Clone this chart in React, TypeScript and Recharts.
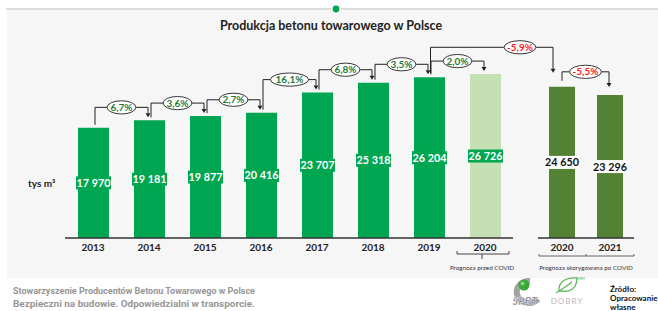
import { BarChart, Bar, XAxis, YAxis, LabelList, Cell } from 'recharts'

const W = 658
const H = 311
const FONT = 'Lato, "Open Sans", sans-serif'

// ── data ──────────────────────────────────────────────────────────────────────
const YEARS = ['2013', '2014', '2015', '2016', '2017', '2018', '2019', '2020']
const PRODUCTION = [17970, 19181, 19877, 20416, 23707, 25318, 26204, 26726]
const GROWTH = ['6,7%', '3,6%', '2,7%', '16,1%', '6,8%', '3,5%', '2,0%']

const YEARS_COVID = ['2020', '2021']
const PRODUCTION_COVID = [24650, 23296]
const GROWTH_COVID = ['-5,9%', '-5,5%']

const Y_DOMAIN: [number, number] = [0, 30000]

// ── layout ────────────────────────────────────────────────────────────────────
const M1 = { top: 54, right: 145, bottom: 43, left: 65 }
const M2 = { top: 54, right: 24, bottom: 43, left: 538 }
const BAND1 = (W - M1.left - M1.right) / YEARS.length
const BAND2 = (W - M2.left - M2.right) / YEARS_COVID.length

const GREEN = '#00a651'
const LIGHT = '#c5e0b4'
const OLIVE = '#548235'
const INK = '#222'

const mainData = YEARS.map((year, i) => ({ year, value: PRODUCTION[i] }))
const covidData = YEARS_COVID.map((year, i) => ({ year, value: PRODUCTION_COVID[i] }))

function fmt(v: number) {
  return String(v).replace(/\B(?=(\d{3})+(?!\d))/g, ' ')
}

function Bracket({ x1, y1, x2, y2, hy, ex, text }: {
  x1: number; y1: number; x2: number; y2: number; hy: number; ex: number; text: string
}) {
  const neg = text.startsWith('-')
  const digits = text.replace(/\D/g, '').length
  const rx = 5 + digits * 4.7 + (neg ? 1.5 : 0)
  return (
    <g>
      <polyline points={`${x1},${y1} ${x1},${hy} ${x2},${hy} ${x2},${y2 - 4}`} fill="none" stroke={INK} strokeWidth={1} />
      <polygon points={`${x2 - 2.5},${y2 - 4} ${x2 + 2.5},${y2 - 4} ${x2},${y2}`} fill={INK} />
      <ellipse cx={ex} cy={hy} rx={rx} ry={6.6} fill="#fff" stroke={INK} strokeWidth={0.9} />
      <text x={ex} y={hy + 3.5} textAnchor="middle" fontSize={10} fontWeight={700} fontFamily={FONT} fill={neg ? '#ff1a1a' : '#1f7a3d'}>
        {text}
      </text>
    </g>
  )
}

function ValueBox({ cx, cy, value, dark }: { cx: number; cy: number; value: number; dark?: boolean }) {
  return (
    <g>
      <rect x={cx - 17.5} y={cy - 6.5} width={35} height={13} fill={dark ? '#fff' : GREEN} />
      <text x={cx} y={cy + 4} textAnchor="middle" fontSize={10.8} fontWeight={700} fontFamily={FONT} fill={dark ? '#111' : '#fff'}>
        {fmt(value)}
      </text>
    </g>
  )
}

// label + growth bracket to the next bar
function MainLabel(props: any) {
  const x = Number(props.x), y = Number(props.y), w = Number(props.width), h = Number(props.height)
  const i = Number(props.index)
  const value = Number(props.value)
  const cx = x + w / 2
  const base = y + h
  const k = h / value
  const out = [<ValueBox key="v" cx={cx} cy={y + h / 2} value={value} />]
  if (i < YEARS.length - 1) {
    const nTop = base - PRODUCTION[i + 1] * k
    const x1 = cx + 1.5
    const x2 = cx + BAND1 - 1.5
    out.push(
      <Bracket key="b" x1={x1} y1={y - 3} x2={x2} y2={nTop - 3} hy={Math.min(y, nTop) - 13} ex={(x1 + x2) / 2} text={GROWTH[i]} />
    )
  }
  return <g>{out}</g>
}

function CovidLabel(props: any) {
  const x = Number(props.x), y = Number(props.y), w = Number(props.width), h = Number(props.height)
  const i = Number(props.index)
  const value = Number(props.value)
  const cx = x + w / 2
  const base = y + h
  const k = h / value
  const out = [<ValueBox key="v" cx={cx} cy={y + h / 2} value={value} dark />]
  if (i === 0) {
    // 2019 actual -> 2020 corrected
    const pi = YEARS.indexOf('2019')
    const pTop = base - PRODUCTION[pi] * k
    const px = M1.left + BAND1 * (pi + 0.5) + 1.5
    const x2 = cx - 9
    out.push(<Bracket key="a" x1={px} y1={pTop - 4} x2={x2} y2={y - 14} hy={pTop - 30} ex={x2 - 33} text={GROWTH_COVID[0]} />)
    const nTop = base - PRODUCTION_COVID[1] * k
    const nx = cx + BAND2 - 1
    out.push(<Bracket key="b" x1={cx} y1={y - 6} x2={nx} y2={nTop - 8} hy={Math.min(y, nTop) - 15} ex={(cx + nx) / 2} text={GROWTH_COVID[1]} />)
  }
  return <g>{out}</g>
}

function MainTick(props: any) {
  const { x, y, payload, index } = props
  return (
    <g>
      <text x={x} y={y + 5} textAnchor="middle" fontSize={10} fontWeight={700} fontFamily={FONT} fill={INK}>{payload.value}</text>
      {index === YEARS.length - 1 && (
        <g>
          <polyline points={`${x - 28},${y + 5} ${x - 28},${y + 8} ${x + 24},${y + 8} ${x + 24},${y + 5}`} fill="none" stroke="#333" strokeWidth={0.9} />
          <line x1={x - 3} y1={y + 8} x2={x - 3} y2={y + 13} stroke="#333" strokeWidth={0.9} />
          <text x={x - 3} y={y + 24} textAnchor="middle" fontSize={6.3} fontFamily={FONT} fill="#333">Prognoza przed COVID</text>
        </g>
      )}
    </g>
  )
}

function CovidTick(props: any) {
  const { x, y, payload, index } = props
  return (
    <g>
      <text x={x} y={y + 5} textAnchor="middle" fontSize={10} fontWeight={700} fontFamily={FONT} fill={INK}>{payload.value}</text>
      {index === 0 && (
        <g>
          <polyline points={`${x - 23},${y + 8} ${x - 23},${y + 10} ${x + BAND2 + 24},${y + 10} ${x + BAND2 + 24},${y + 8}`} fill="none" stroke="#555" strokeWidth={0.9} />
          <line x1={x + BAND2 / 2} y1={y + 8} x2={x + BAND2 / 2} y2={y + 10} stroke="#555" strokeWidth={0.9} />
          <text x={x + BAND2 / 2} y={y + 24} textAnchor="middle" fontSize={6.3} fontFamily={FONT} fill="#333">Prognoza skorygowana po COVID</text>
        </g>
      )}
    </g>
  )
}

function Backdrop() {
  return (
    <svg width={W} height={H} style={{ position: 'absolute', left: 0, top: 0 }}>
      <rect x={0} y={0} width={W} height={H} fill="#fff" />
      <rect x={7} y={10} width={W - 7} height={268} fill="#f6f6f6" />
      <line x1={6} y1={9} x2={W} y2={9} stroke="#dcdcdc" strokeWidth={2} />
      <circle cx={336} cy={9} r={5} fill="#fff" />
      <circle cx={336} cy={9} r={3.4} fill={GREEN} />
      <text x={331} y={30} textAnchor="middle" fontSize={12.5} fontWeight={700} fontFamily={FONT} fill={INK}>
        Produkcja betonu towarowego w Polsce
      </text>
      <text x={28} y={186.5} fontSize={10} fontWeight={700} fontFamily={FONT} fill={INK}>tys m³</text>

      <text x={13} y={294} fontSize={9} fontWeight={700} fontFamily="Roboto, sans-serif" fill="#969696" textLength={242} lengthAdjust="spacingAndGlyphs">
        Stowarzyszenie Producentów Betonu Towarowego w Polsce
      </text>
      <text x={13} y={307} fontSize={9} fontWeight={700} fontFamily="Roboto, sans-serif" fill="#969696" textLength={242} lengthAdjust="spacingAndGlyphs">
        Bezpieczni na budowie. Odpowiedzialni w transporcie.
      </text>

      {/* SPBT logo */}
      <path d="M 530 281 A 12 11 0 1 0 538 299" fill="none" stroke="#a3a3a3" strokeWidth={6} />
      <circle cx={524} cy={285} r={5.5} fill="#3aa935" />
      <circle cx={522.5} cy={283.5} r={2} fill="#8fd18a" />
      <text x={525} y={305} textAnchor="middle" fontSize={11} fontWeight={900} fontStyle="italic" fontFamily={FONT} fill="#7a7a7a" stroke="#f0f0f0" strokeWidth={0.5}>SPBT</text>
      {/* DOBRY logo */}
      <path d="M 559 291 C 558 282 566 277 577 278 C 577 288 570 293 561 291 Z" fill="none" stroke="#5cb85c" strokeWidth={1.3} />
      <path d="M 556 293 C 562 289 567 286 572 282" fill="none" stroke="#5cb85c" strokeWidth={1.1} />
      <text x={577} y={280} fontSize={3.5} fontFamily={FONT} fill="#5cb85c">SPBT</text>
      <text x={567} y={304} textAnchor="middle" fontSize={8} fontFamily={FONT} fill="#b8b8b8" letterSpacing={1}>DOBRY</text>

      <text x={610} y={292} fontSize={8} fontWeight={700} fontFamily={FONT} fill="#111">Źródło:</text>
      <text x={610} y={301} fontSize={8} fontWeight={700} fontFamily={FONT} fill="#111">Opracowanie</text>
      <text x={610} y={310} fontSize={8} fontWeight={700} fontFamily={FONT} fill="#111">własne</text>
    </svg>
  )
}

export default function App() {
  return (
    <div style={{ position: 'absolute', left: 0, top: 0, width: W, height: H, overflow: 'hidden', background: '#fff' }}>
      <Backdrop />
      <div style={{ position: 'absolute', left: 0, top: 0 }}>
        <BarChart width={W} height={H} data={mainData} margin={M1}>
          <YAxis hide domain={Y_DOMAIN} />
          <XAxis dataKey="year" axisLine={{ stroke: '#333', strokeWidth: 1.3 }} tickLine={false} tick={<MainTick />} interval={0} />
          <Bar dataKey="value" barSize={31} isAnimationActive={false}>
            {mainData.map((_, i) => (
              <Cell key={i} fill={i === mainData.length - 1 ? LIGHT : GREEN} />
            ))}
            <LabelList dataKey="value" content={<MainLabel />} />
          </Bar>
        </BarChart>
      </div>
      <div style={{ position: 'absolute', left: 0, top: 0 }}>
        <BarChart width={W} height={H} data={covidData} margin={M2}>
          <YAxis hide domain={Y_DOMAIN} />
          <XAxis dataKey="year" axisLine={{ stroke: '#333', strokeWidth: 1.3 }} tickLine={false} tick={<CovidTick />} interval={0} />
          <Bar dataKey="value" barSize={26} fill={OLIVE} isAnimationActive={false}>
            <LabelList dataKey="value" content={<CovidLabel />} />
          </Bar>
        </BarChart>
      </div>
    </div>
  )
}
